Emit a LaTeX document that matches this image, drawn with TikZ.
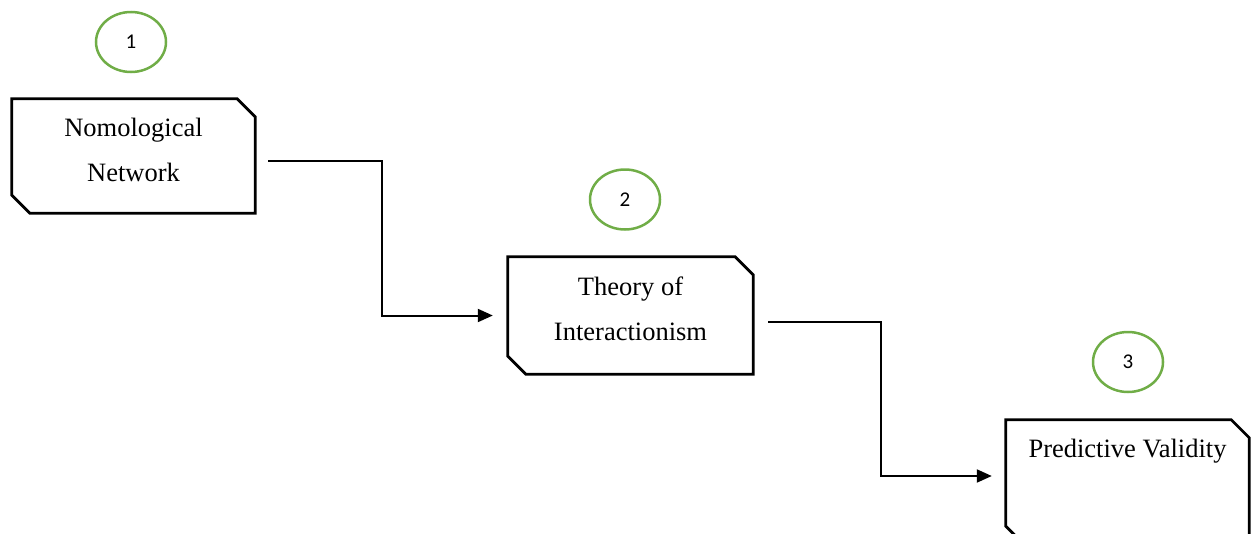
\documentclass[tikz,border=0pt]{standalone}
\usepackage{fontspec}
\setmainfont{Liberation Serif}
\newfontfamily\numfont{Carlito}
\usetikzlibrary{shapes.geometric,arrows.meta,calc}
\definecolor{circgreen}{HTML}{70AD47}
\tikzset{
  box/.style={draw=none, rectangle, inner sep=0pt,
    minimum width=243pt, minimum height=114pt},
  boxline/.style={draw=black, line width=2.7pt, line join=miter},
  boxtext/.style={align=center, inner sep=0pt,
    font=\fontsize{26.5pt}{45pt}\selectfont},
  badge/.style={draw=circgreen, line width=2.5pt, ellipse, minimum width=70pt,
    minimum height=60pt, inner sep=0pt, font=\numfont\fontsize{21pt}{24pt}\selectfont},
  conn/.style={draw=black, line width=2pt, -{Triangle[length=15pt,width=13pt]}}
}
\newcommand{\chambox}[1]{%
  \draw[boxline] (#1.north west) -- ([xshift=-18pt]#1.north east)
    -- ([yshift=-18pt]#1.north east) -- (#1.south east)
    -- ([xshift=18pt]#1.south west) -- ([yshift=18pt]#1.south west) -- cycle;}
\begin{document}
\begin{tikzpicture}[x=1pt,y=-1pt]
\useasboundingbox (0,0) rectangle (1255,533);
% boxes
\node[box] (n1) at (133.5,156) {};
\node[box, minimum width=245pt, minimum height=117pt] (n2) at (630.5,315.5) {};
\node[box, minimum height=124pt] (n3) at (1127.5,482) {};
\chambox{n1}
\chambox{n2}
\chambox{n3}
% texts
\node[boxtext] (t1) at (133.5,149.5) {Nomological\\Network};
\node[boxtext] (t2) at (630.5,308.5) {Theory of\\Interactionism};
\node[boxtext, anchor=base] (t3) at (1127.5,457) {Predictive Validity};
% badges
\node[badge] (c1) at (131,42) {1};
\node[badge] (c2) at (625,199.5) {2};
\node[badge] (c3) at (1128,362) {3};
% connectors
\draw[conn, shorten <=13pt, shorten >=15pt]
  ([yshift=-5pt]n1.east) -| ($(n1.east)!0.5!(n2.west)$) |- (n2.west);
\draw[conn, shorten <=15pt, shorten >=14pt]
  ([yshift=-6.5pt]n2.east) -| ($(n2.east)!0.5!(n3.west)+(1.5,0)$) |- ([yshift=6pt]n3.west);
\end{tikzpicture}
\end{document}
